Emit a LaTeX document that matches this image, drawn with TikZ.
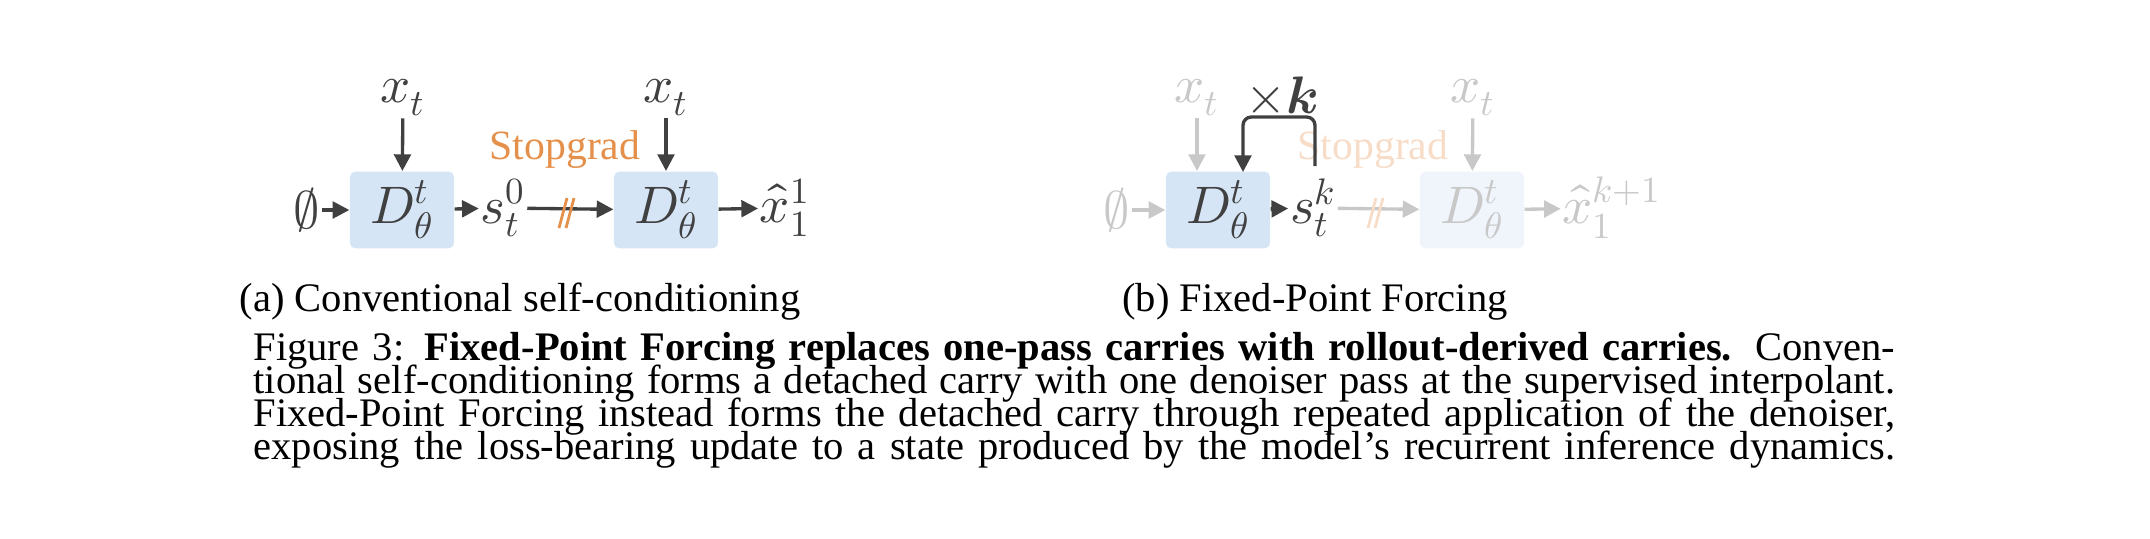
\documentclass[tikz,border=0pt]{standalone}
\usepackage{fontspec}
\setmainfont{Liberation Serif}
\usepackage{amsmath}
\usepackage{unicode-math}
\setmathfont{Latin Modern Math}
\usetikzlibrary{arrows.meta}
\definecolor{boxb}{HTML}{D5E5F6}
\definecolor{boxf}{HTML}{F0F5FC}
\definecolor{dk}{HTML}{404040}
\definecolor{fd}{HTML}{C8C8C8}
\definecolor{org}{HTML}{E5904A}
\definecolor{orgf}{HTML}{F7DCC7}
\begin{document}
\begin{tikzpicture}[x=0.36pt,y=-0.36pt,
  box/.style={fill=#1,rounded corners=2pt,minimum width=37.5pt,minimum height=27.7pt,inner sep=0pt},
  lab/.style={inner sep=0.5pt,font=\fontsize{19}{21}\selectfont},
  arr/.style={line width=1.2pt,draw=#1,-{Triangle[length=6pt,width=6pt]}},
  sg/.style={text=#1,font=\fontsize{15}{17}\selectfont},
  captxt/.style={anchor=base west,inner sep=0pt,font=\fontsize{14.6}{16}\selectfont}]
\useasboundingbox (0,0) rectangle (2150,538);
% panel a
\node[lab,text=dk] (e1) at (307,210) {$\varnothing$};
\node[box=boxb] (a1) at (402,210) {};
\node[lab,text=dk] at (a1) {$D_\theta^t$};
\node[lab,text=dk] (xa1) at (403,98) {$x_t$};
\node[lab,text=dk] (s0) at (503,208) {$s_t^0$};
\node[box=boxb] (a2) at (666,210) {};
\node[lab,text=dk] at (a2) {$D_\theta^t$};
\node[lab,text=dk] (xa2) at (666,98) {$x_t$};
\node[lab,text=dk] (h1) at (785,208) {$\hat{x}_1^1$};
\node[sg=org] (sga) at (565,150) {Stopgrad};
\draw[arr=dk] (e1) -- (a1);
\draw[arr=dk] (xa1) -- (a1);
\draw[arr=dk] (a1) -- (s0);
\draw[arr=dk] (s0) -- (a2);
\draw[arr=dk] (xa2) -- (a2);
\draw[arr=dk] (a2) -- (h1);
\draw[org,line width=1pt] (559,228) -- (567,198) (566,228) -- (574,198);
% panel b
\node[lab,text=fd] (e2) at (1117,210) {$\varnothing$};
\node[box=boxb] (b1) at (1218,210) {};
\node[lab,text=dk] at (b1) {$D_\theta^t$};
\node[lab,text=fd] (xb1) at (1197,98) {$x_t$};
\node[lab,text=dk] (sk) at (1313,208) {$s_t^k$};
\node[box=boxf] (b2) at (1472,210) {};
\node[lab,text=fd] at (b2) {$D_\theta^t$};
\node[lab,text=fd] (xb2) at (1473,98) {$x_t$};
\node[lab,text=fd] (hk) at (1612,208) {$\hat{x}_1^{k+1}$};
\node[sg=orgf] (sgb) at (1373,150) {Stopgrad};
\node[lab,text=dk] (xk) at (1282,95) {$\times\symbfit{k}$};
\coordinate (fb) at (1243,172);
\draw[arr=fd] (e2) -- (b1);
\draw[arr=fd] (xb1) -- (xb1|-b1.north);
\draw[arr=dk] (b1) -- (sk);
\draw[arr=fd] (sk) -- (b2);
\draw[arr=fd] (xb2) -- (b2);
\draw[arr=fd] (b2) -- (hk);
\draw[arr=dk,rounded corners=3pt] (1315,166) -- (1315,117) -- (1243,117) -- (fb);
\draw[orgf,line width=1pt] (1368,228) -- (1376,198) (1375,228) -- (1383,198);
% captions
\node[captxt,anchor=base] (ca) at (520,311) {(a) Conventional self-conditioning};
\node[captxt,anchor=base] (cb) at (1315,311) {(b) Fixed-Point Forcing};
\node[captxt] (l1) at (253,360) {\makebox[591pt][s]{Figure 3: \textbf{Fixed-Point Forcing replaces one-pass carries with rollout-derived carries.} Conven-}};
\node[captxt] (l2) at (253,393) {\makebox[591pt][s]{tional self-conditioning forms a detached carry with one denoiser pass at the supervised interpolant.}};
\node[captxt] (l3) at (253,426) {\makebox[591pt][s]{Fixed-Point Forcing instead forms the detached carry through repeated application of the denoiser,}};
\node[captxt] (l4) at (253,459) {\makebox[591pt][s]{exposing the loss-bearing update to a state produced by the model’s recurrent inference dynamics.}};
\end{tikzpicture}
\end{document}
